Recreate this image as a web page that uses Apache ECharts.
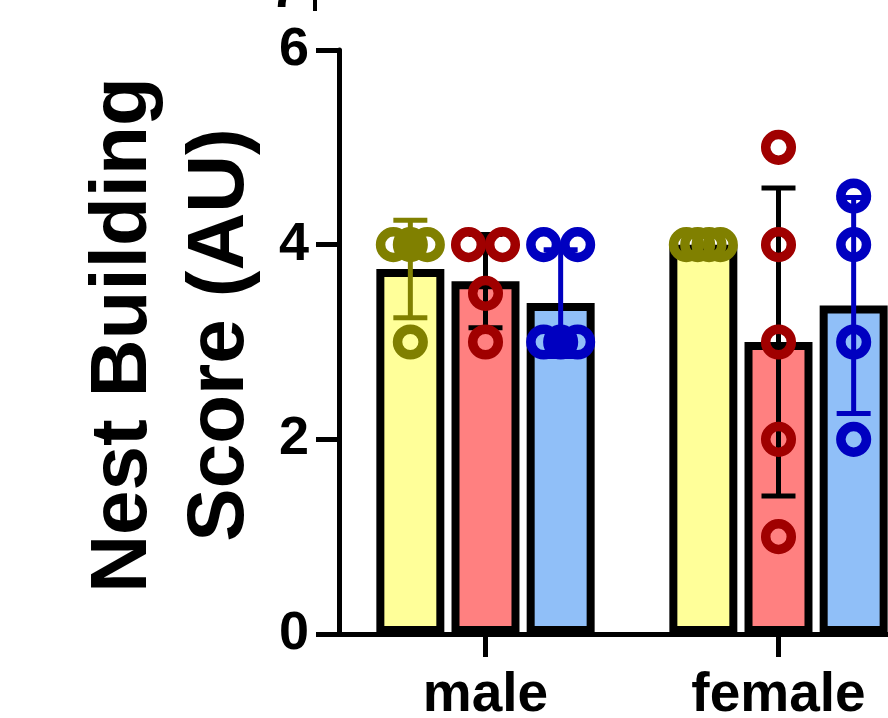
<!DOCTYPE html>
<html>
<head>
<meta charset="utf-8">
<script src="https://cdn.jsdelivr.net/npm/echarts@6/dist/echarts.min.js"></script>
<style>
  html, body { margin: 0; padding: 0; background: #ffffff; }
  #chart { width: 888px; height: 718px; }
</style>
</head>
<body>
<div id="chart"></div>
<script>
// Nest building scores per sex, three groups, individual animals as hollow dots
const categories = ['male', 'female'];
const yTicks = [0, 2, 4, 6];

const yellowScores = [[4, 4, 4, 3], [4, 4, 4, 4]];
const redScores = [[4, 4, 3.5, 3], [5, 4, 3, 2, 1]];
const blueScores = [[4, 4, 3, 3, 3], [4.5, 4, 3, 2]];

const groupStyles = [
  { fill: '#FFFF99', dot: '#808000', err: '#808000' },
  { fill: '#FF8080', dot: '#A00000', err: '#000000' },
  { fill: '#90BFF8', dot: '#0000C0', err: '#0000C0' }
];
const groupScores = [yellowScores, redScores, blueScores];

function mean(a) { return a.reduce((s, v) => s + v, 0) / a.length; }
function sd(a) {
  const m = mean(a);
  return Math.sqrt(a.reduce((s, v) => s + (v - m) * (v - m), 0) / (a.length - 1));
}

const FONT = '"Liberation Sans", Arial, Helvetica, sans-serif';

function makeSeries(gi) {
  const scores = groupScores[gi];
  const st = groupStyles[gi];
  const data = scores.map((vals, ci) => {
    const m = mean(vals), s = sd(vals);
    return [ci, m, m - s, m + s];
  });
  return {
    type: 'custom',
    name: 'group' + gi,
    clip: false,
    encode: { x: 0, y: [1, 2, 3] },
    data: data,
    renderItem: function (params, api) {
      const ci = api.value(0);
      const m = api.value(1), lo = api.value(2), hi = api.value(3);
      const base = api.coord([ci, 0]);
      const band = api.size([1, 0])[0];
      const cx = base[0] + (gi - 1) * band * 0.2565;
      const barW = band * 0.232;
      const bw = 8;
      const yTop = api.coord([ci, m])[1];
      const y0 = base[1];
      const children = [];
      // bar with its outline drawn inside the bar edge
      children.push({
        type: 'rect',
        shape: { x: cx - barW / 2 + bw / 2, y: yTop + bw / 2, width: barW - bw, height: y0 - yTop - bw },
        style: { fill: st.fill, stroke: '#000', lineWidth: bw }
      });
      // SD error bar
      if (hi - lo > 1e-9) {
        const yLo = api.coord([ci, lo])[1], yHi = api.coord([ci, hi])[1];
        const capW = band * 0.116;
        const es = { stroke: st.err, lineWidth: 5, lineCap: 'butt' };
        children.push({ type: 'line', shape: { x1: cx, y1: yLo, x2: cx, y2: yHi }, style: es });
        children.push({ type: 'line', shape: { x1: cx - capW / 2, y1: yLo, x2: cx + capW / 2, y2: yLo }, style: es });
        children.push({ type: 'line', shape: { x1: cx - capW / 2, y1: yHi, x2: cx + capW / 2, y2: yHi }, style: es });
      }
      // individual values; ties are spread sideways across the bar
      const vals = scores[ci];
      const seen = {};
      const counts = {};
      vals.forEach(v => { counts[v] = (counts[v] || 0) + 1; });
      const spread = band * 0.058;
      vals.forEach(v => {
        const n = counts[v];
        const k = seen[v] || 0;
        seen[v] = k + 1;
        const off = n === 1 ? 0 : -spread + (2 * spread) * k / (n - 1);
        const cy = api.coord([ci, v])[1];
        children.push({
          type: 'circle',
          shape: { cx: cx + off, cy: cy, r: 12.8 },
          style: { fill: 'none', stroke: st.dot, lineWidth: 9.5 }
        });
      });
      return { type: 'group', children: children };
    }
  };
}

const chart = echarts.init(document.getElementById('chart'), null, { renderer: 'canvas' });
chart.setOption({
  backgroundColor: '#ffffff',
  animation: false,
  grid: { left: 339, top: 50, width: 586, height: 584, containLabel: false, outerBoundsMode: 'none' },
  xAxis: {
    type: 'category',
    data: categories,
    boundaryGap: true,
    axisLine: { lineStyle: { color: '#000', width: 5 } },
    axisTick: { show: true, interval: 0, alignWithLabel: true, length: 23, lineStyle: { color: '#000', width: 5 } },
    axisLabel: { color: '#000', fontSize: 55, fontWeight: 'bold', fontFamily: FONT, margin: 34 },
    splitLine: { show: false }
  },
  yAxis: {
    type: 'value',
    min: yTicks[0],
    max: yTicks[yTicks.length - 1],
    interval: yTicks[1] - yTicks[0],
    axisLine: { show: true, lineStyle: { color: '#000', width: 5 } },
    axisTick: { show: true, length: 23, lineStyle: { color: '#000', width: 5 } },
    axisLabel: { color: '#000', fontSize: 54, fontWeight: 'bold', fontFamily: FONT, margin: 30 },
    splitLine: { show: false }
  },
  graphic: [
    {
      type: 'text',
      x: 172,
      y: 335,
      rotation: Math.PI / 2,
      style: {
        text: 'Nest Building\nScore (AU)',
        font: 'bold 80px ' + FONT,
        lineHeight: 97,
        fill: '#000',
        align: 'center',
        verticalAlign: 'middle'
      }
    },
    {
      type: 'text',
      x: 270,
      y: -8,
      style: {
        text: '7',
        font: 'bold 54px ' + FONT,
        fill: '#000',
        align: 'left',
        verticalAlign: 'middle'
      }
    },
    {
      type: 'line',
      shape: { x1: 315, y1: 0, x2: 315, y2: 11 },
      style: { stroke: '#000', lineWidth: 4 }
    }
  ],
  series: [makeSeries(0), makeSeries(1), makeSeries(2)]
});
</script>
</body>
</html>
